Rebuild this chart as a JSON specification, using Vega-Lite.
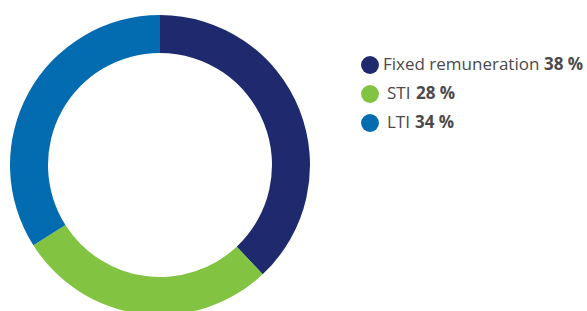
{
  "$schema": "https://vega.github.io/schema/vega-lite/v6.json",
  "padding": 0,
  "spacing": 0,
  "background": "white",
  "config": {"view": {"stroke": null}, "text": {"font": "Open Sans", "fontSize": 17, "color": "#4a4a4a", "align": "left", "baseline": "middle"}},
  "data": {"values": [
    {"component": "Fixed remuneration", "share": 38, "rank": 1},
    {"component": "STI", "share": 28, "rank": 2},
    {"component": "LTI", "share": 34, "rank": 3}
  ]},
  "transform": [{"calculate": "datum.share + ' %'", "as": "pct"}],
  "hconcat": [
    {
      "width": 320,
      "height": 330,
      "mark": {"type": "arc", "innerRadius": 112, "outerRadius": 150},
      "encoding": {
        "theta": {"field": "share", "type": "quantitative", "stack": true},
        "order": {"field": "rank", "type": "quantitative"},
        "color": {"field": "component", "type": "nominal",
          "scale": {"domain": ["Fixed remuneration", "STI", "LTI"], "range": ["#1f2a6e", "#82c341", "#036cb0"]},
          "legend": null}
      }
    },
    {
      "width": 267,
      "height": 311,
      "encoding": {
        "y": {"field": "component", "type": "nominal", "sort": ["Fixed remuneration", "STI", "LTI"],
          "scale": {"type": "point", "range": [65, 123], "padding": 0}, "axis": null}
      },
      "layer": [
        {
          "mark": {"type": "point", "filled": true, "size": 320, "opacity": 1},
          "encoding": {
            "x": {"value": 50},
            "color": {"field": "component", "type": "nominal", "legend": null}
          }
        },
        {
          "transform": [{"filter": "datum.rank == 1"}],
          "mark": {"type": "text"},
          "encoding": {"x": {"value": 63}, "text": {"field": "component"}}
        },
        {
          "transform": [{"filter": "datum.rank > 1"}],
          "mark": {"type": "text"},
          "encoding": {"x": {"value": 67}, "text": {"field": "component"}}
        },
        {
          "transform": [{"filter": "datum.rank == 1"}],
          "mark": {"type": "text", "fontWeight": "bold"},
          "encoding": {"x": {"value": 224}, "text": {"field": "pct"}}
        },
        {
          "transform": [{"filter": "datum.rank == 2"}],
          "mark": {"type": "text", "fontWeight": "bold"},
          "encoding": {"x": {"value": 96}, "text": {"field": "pct"}}
        },
        {
          "transform": [{"filter": "datum.rank == 3"}],
          "mark": {"type": "text", "fontWeight": "bold"},
          "encoding": {"x": {"value": 95}, "text": {"field": "pct"}}
        }
      ]
    }
  ]
}
